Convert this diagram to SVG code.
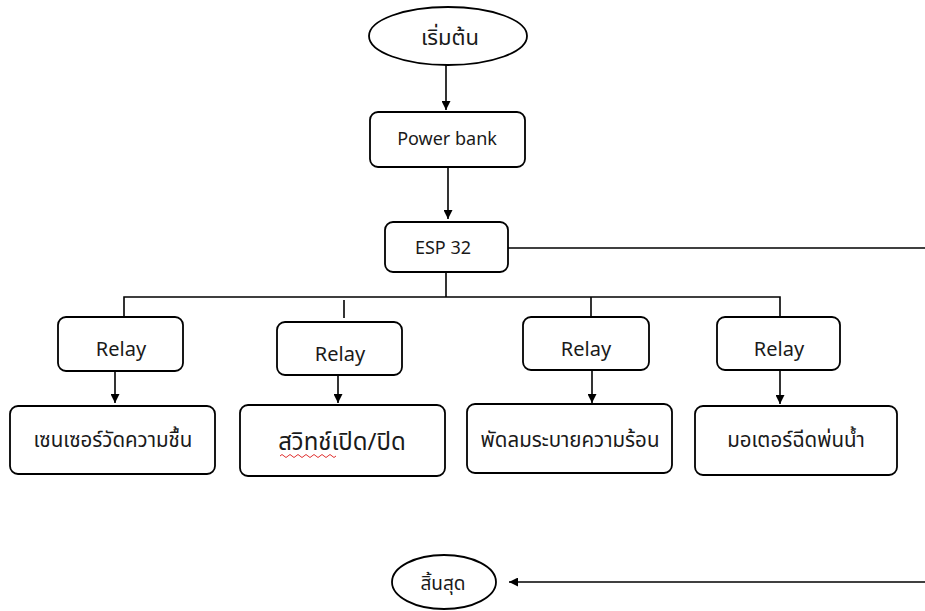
<svg xmlns="http://www.w3.org/2000/svg" width="925" height="611" viewBox="0 0 925 611">
<defs>
<marker id="arr" viewBox="0 0 10 10" refX="10" refY="5" markerWidth="9" markerHeight="9" markerUnits="userSpaceOnUse" orient="auto">
<path d="M0,0 L10,5 L0,10 Z" fill="#000"/>
</marker>
</defs>
<style>
.box{fill:#fff;stroke:#000;stroke-width:1.8}
.ln{fill:none;stroke:#000;stroke-width:1.6}
.t{font-family:"Noto Sans Thai","Noto Sans","DejaVu Sans",sans-serif;font-size:18px;fill:#1a1a1a;text-anchor:middle}
.r{font-family:"Noto Sans Thai","Noto Sans","DejaVu Sans",sans-serif;font-size:20px;fill:#1a1a1a;text-anchor:middle}
.th{font-family:"Noto Sans Thai","Noto Sans","DejaVu Sans",sans-serif;font-size:20.5px;fill:#1a1a1a;text-anchor:middle}
</style>
<rect width="925" height="611" fill="#fff"/>
<g id="connectors">
<line class="ln" x1="446" y1="65" x2="446" y2="110" marker-end="url(#arr)"/>
<line class="ln" x1="448" y1="167" x2="448" y2="219" marker-end="url(#arr)"/>
<line class="ln" x1="508" y1="248" x2="925" y2="248"/>
<polyline class="ln" points="446,272 446,297"/>
<polyline class="ln" points="124,317 124,297 780,297 780,317"/>
<line class="ln" x1="591" y1="297" x2="591" y2="317"/>
<line class="ln" x1="344" y1="300" x2="344" y2="318"/>
<line class="ln" x1="115" y1="371" x2="115" y2="403" marker-end="url(#arr)"/>
<line class="ln" x1="338" y1="375" x2="338" y2="403" marker-end="url(#arr)"/>
<line class="ln" x1="592" y1="370" x2="592" y2="403" marker-end="url(#arr)"/>
<line class="ln" x1="780" y1="370" x2="780" y2="404" marker-end="url(#arr)"/>
<line class="ln" x1="925" y1="582" x2="509" y2="582" marker-end="url(#arr)"/>
</g>
<g id="start">
<ellipse class="box" cx="448" cy="36" rx="79" ry="29"/>
<text class="th" x="450" y="45" style="font-size:22px">เริ่มต้น</text>
</g>
<g id="powerbank">
<rect class="box" x="370" y="112" width="155" height="55" rx="8"/>
<text class="t" x="447" y="145">Power bank</text>
</g>
<g id="esp32">
<rect class="box" x="385" y="222" width="123" height="50" rx="8"/>
<text class="t" x="443" y="254">ESP 32</text>
</g>
<g id="relay1">
<rect class="box" x="58" y="317" width="125" height="54" rx="8" stroke-width="2.4"/>
<text class="r" x="121" y="356">Relay</text>
</g>
<g id="relay2">
<rect class="box" x="277" y="322" width="125" height="53" rx="8"/>
<text class="r" x="340" y="361">Relay</text>
</g>
<g id="relay3">
<rect class="box" x="523" y="317" width="126" height="53" rx="8"/>
<text class="r" x="586" y="356">Relay</text>
</g>
<g id="relay4">
<rect class="box" x="717" y="317" width="123" height="53" rx="8"/>
<text class="r" x="779" y="356">Relay</text>
</g>
<g id="sensor">
<rect class="box" x="10" y="406" width="205" height="68" rx="8"/>
<text class="th" x="113" y="447">เซนเซอร์วัดความชื้น</text>
</g>
<g id="switch">
<rect class="box" x="240" y="405" width="205" height="71" rx="8" stroke-width="2.4"/>
<text class="th" x="342" y="450" style="font-size:24px">สวิทช์เปิด/ปิด</text>
<path d="M280,456 q2,-3 4,0 t4,0 t4,0 t4,0 t4,0 t4,0 t4,0 t4,0 t4,0 t4,0 t4,0 t4,0 t4,0 t4,0" fill="none" stroke="#e03030" stroke-width="1"/>
</g>
<g id="fan">
<rect class="box" x="467" y="404" width="205" height="69" rx="8"/>
<text class="th" x="570" y="447">พัดลมระบายความร้อน</text>
</g>
<g id="motor">
<rect class="box" x="695" y="406" width="202" height="69" rx="8"/>
<text class="th" x="796" y="447">มอเตอร์ฉีดพ่นน้ำ</text>
</g>
<g id="end">
<ellipse class="box" cx="444" cy="582" rx="52" ry="27"/>
<text class="th" x="443" y="590" style="font-size:19px">สิ้นสุด</text>
</g>
</svg>
